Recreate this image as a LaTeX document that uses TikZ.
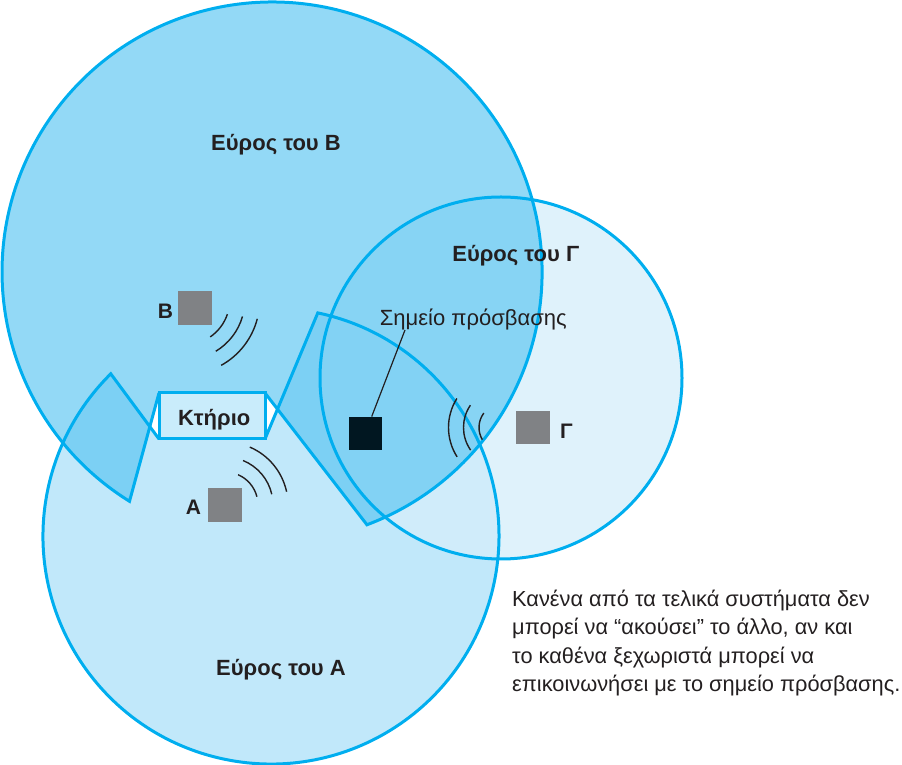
\documentclass[tikz,border=0pt]{standalone}
\usepackage{fontspec}
\setmainfont{Liberation Sans}
\definecolor{cyanline}{RGB}{0,174,239}
\definecolor{afill}{RGB}{193,232,250}
\definecolor{gfill}{RGB}{213,238,250}
\definecolor{bfill}{RGB}{86,196,241}
\definecolor{bldfill}{RGB}{201,236,251}
\definecolor{devgrey}{RGB}{128,130,133}
\definecolor{apblack}{RGB}{1,23,33}
\definecolor{txt}{RGB}{35,31,32}
\begin{document}
\begin{tikzpicture}[x=1pt,y=1pt,
  rim/.style={draw=cyanline,line width=3pt},
  devsq/.style={fill=devgrey,minimum size=33.5pt,inner sep=0pt,outer sep=0pt},
  apsq/.style={fill=apblack,minimum size=33.5pt,inner sep=0pt,outer sep=0pt},
  wave/.style={draw=txt,line width=1.4pt},
  leader/.style={draw=txt,line width=1.2pt},
  lbl/.style={font=\fontsize{21}{25}\selectfont\bfseries,text=txt,inner sep=0pt,anchor=base},
  rangelbl/.style={font=\fontsize{22}{26}\selectfont\bfseries,text=txt,inner sep=0pt,anchor=base},
  plainlbl/.style={font=\fontsize{22}{26}\selectfont,text=txt,inner sep=0pt,anchor=base},
  note/.style={font=\fontsize{21.8}{26}\selectfont,text=txt,inner sep=0pt,anchor=base west}]
\useasboundingbox (0,0) rectangle (902,765);
% ---- region fills ----
\fill[afill] (265,326) -- (317.8,452.1) arc[start angle=78.15,end angle=-225.36,radius=228] -- (159,326) -- cycle;
\fill[gfill,fill opacity=0.77] (501,387) circle[radius=181];
\fill[bfill,fill opacity=0.64] (159,372) -- (129.5,263.7) arc[start angle=238.13,end angle=-69.42,radius=270] -- (265,372) -- cycle;
% ---- region outlines ----
\draw[rim] (501,387) circle[radius=181];
\draw[rim] (265,326) -- (317.8,452.1) arc[start angle=78.15,end angle=-225.36,radius=228] -- (159,326);
\draw[rim] (159,372) -- (129.5,263.7) arc[start angle=238.13,end angle=-69.42,radius=270] -- (265,372);
% ---- building ----
\node[rim,fill=bldfill,minimum width=106pt,minimum height=46pt,inner sep=0pt] (bld) at (212,349) {};
\node[rangelbl] (bldlbl) at (214.2,339) {Κτήριο};
% ---- stations ----
\node[devsq] (stB) at (194.8,457.2) {};
\node[devsq] (stA) at (224.8,260.2) {};
\node[devsq] (stG) at (533,337.3) {};
\node[apsq] (ap) at (365.7,331.7) {};
\node[lbl] (labB) at (165.5,446.7) {Β};
\node[lbl] (labA) at (193.5,250) {Α};
\node[lbl] (labG) at (566.5,326.7) {Γ};
% ---- waves ----
\draw[wave] (185,465) ++(-18.5:44.7) arc[start angle=-18.5,end angle=-55.7,radius=44.7];
\draw[wave] (185,465) ++(-16:59.8) arc[start angle=-16,end angle=-59,radius=59.8];
\draw[wave] (185,465) ++(-14.6:74.7) arc[start angle=-14.6,end angle=-61,radius=74.7];
\draw[wave] (225,260) ++(66.6:33) arc[start angle=66.6,end angle=14.7,radius=33];
\draw[wave] (225,260) ++(67.9:48) arc[start angle=67.9,end angle=12.9,radius=48];
\draw[wave] (225,260) ++(66.8:63) arc[start angle=66.8,end angle=12.2,radius=63];
\draw[wave] (503,337.5) ++(143.1:24) arc[start angle=143.1,end angle=210.4,radius=24];
\draw[wave] (503,337.5) ++(145.7:39.5) arc[start angle=145.7,end angle=214.9,radius=39.5];
\draw[wave] (503,337.5) ++(147.8:54.5) arc[start angle=147.8,end angle=212.6,radius=54.5];
% ---- labels ----
\node[rangelbl] (rB) at (276,614.3) {Εύρος του Β};
\node[rangelbl] (rG) at (515.8,503.3) {Εύρος του Γ};
\node[rangelbl] (rA) at (281,89) {Εύρος του Α};
\node[plainlbl] (aplbl) at (473.3,439.3) {Σημείο πρόσβασης};
\coordinate (leadtop) at (405,435);
\draw[leader] (leadtop) -- ([xshift=6pt]ap.north);
% ---- note ----
\node[note] (note1) at (512,158.3) {Κανένα από τα τελικά συστήματα δεν};
\node[note] (note2) at (512,130) {μπορεί να “ακούσει” το άλλο, αν και};
\node[note] (note3) at (512,101.7) {το καθένα ξεχωριστά μπορεί να};
\node[note] (note4) at (512,73.3) {επικοινωνήσει με το σημείο πρόσβασης.};
\end{tikzpicture}
\end{document}
